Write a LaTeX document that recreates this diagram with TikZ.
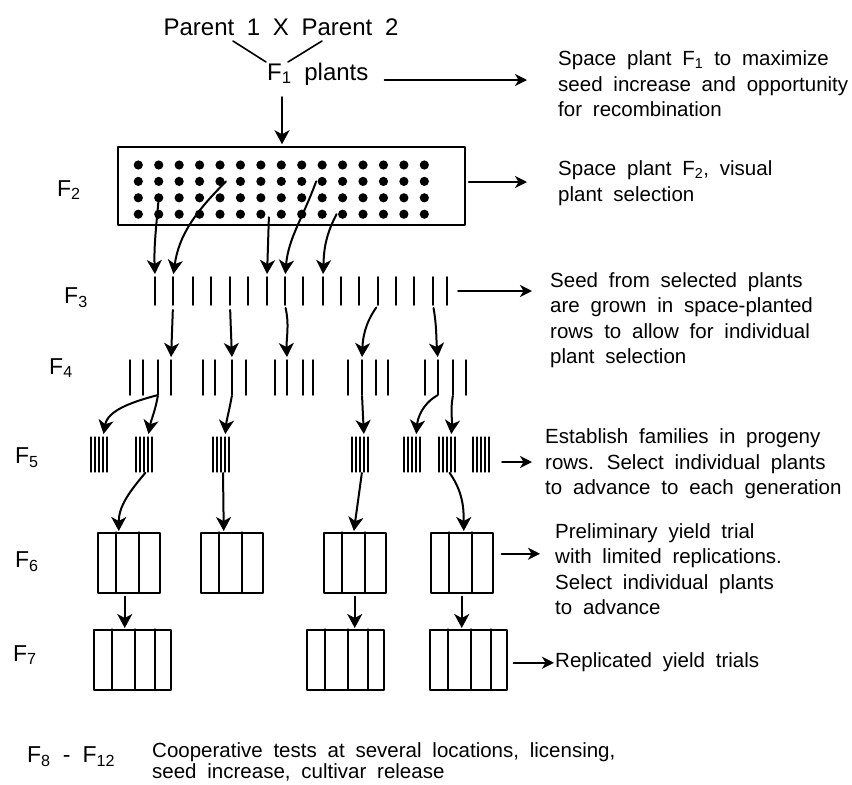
\documentclass[tikz,border=0pt]{standalone}
\usepackage{fontspec}
\setmainfont[WordSpace=1.9]{Liberation Sans}
\usetikzlibrary{arrows.meta}

\begin{document}
\begin{tikzpicture}[x=1pt,y=1pt,line cap=round,line join=round,
    note/.style={anchor=west,align=left,inner sep=0pt,font=\fontsize{20.5}{25.5}\selectfont},
    gen/.style={anchor=west,inner sep=0pt,font=\fontsize{23}{26}\selectfont},
    plot/.style={draw,line width=1.5pt,inner sep=0pt,anchor=north west},
    pick/.style={line width=2pt,shorten >=3pt,-{Stealth[length=14pt,width=15pt,inset=4pt]}},
    side/.style={line width=1.8pt,-{Stealth[length=12pt,width=12pt,inset=3.5pt]}}]
  \useasboundingbox (0,0) rectangle (852,-785);

  % cross and F1
  \node[font=\fontsize{24}{28}\selectfont] (cross) at (281,-27) {Parent 1 X Parent 2};
  \node[anchor=base west,inner sep=0pt,font=\fontsize{24}{28}\selectfont] (f1) at (267,-80) {F\textsubscript{1} plants};
  \coordinate (p1) at (233,-41);
  \coordinate (p2) at (322,-41);
  \coordinate (m1) at (266,-62);
  \coordinate (m2) at (288,-62);
  \draw[line width=1.6pt] (p1) -- (m1) (p2) -- (m2);

  % F2 field
  \node[draw,line width=1.5pt,minimum width=347pt,minimum height=78pt,inner sep=0pt] (field) at (291.5,-186) {};
  \foreach \c in {0,...,14}
    \foreach \r in {0,...,3}
      \fill ({138.3+20.43*\c},{-165-16.4*\r}) coordinate (d-\c-\r) circle (4.6pt);
  \coordinate (f1 stem) at (282,-97);
  \draw[pick,shorten >=2pt] (f1 stem) -- (f1 stem |- field.north);

  % F3 rows
  \foreach \x [count=\i from 0] in {155,173,193,211,230,248,267,285,303,323,341,359,378,396,414,433,447}
    \draw[line width=1.7pt] (\x,-277) coordinate (r3-\i) -- (\x,-305) coordinate (r3b-\i);
  \draw[pick] (d-1-2) to[out=-95,in=92] (r3-0);
  \draw[pick] ([xshift=6]d-4-1) to[out=-135,in=82] (r3-1);
  \draw[pick] ([shift={(8,-3)}]d-6-3) -- (r3-6);
  \draw[pick] ([xshift=-6]d-9-1) to[out=-110,in=85] (r3-7);
  \draw[pick] ([xshift=-6]d-10-3) to[out=-118,in=88] (r3-9);

  % F4 rows
  \foreach \g/\xs in {1/{130,143,158,171},2/{203,215,232,246},3/{275,287,303,313},4/{348,362,376,388},5/{425,438,453,466}}
    \foreach \x [count=\l] in \xs
      \draw[line width=1.5pt] (\x,-360) coordinate (r4-\g-\l) -- (\x,-395) coordinate (r4b-\g-\l);
  \draw[pick,shorten <=5pt] (r3b-1) -- (r4-1-4);
  \draw[pick,shorten <=5pt] (r3b-4) to[out=-88,in=92] (r4-2-3);
  \draw[pick,shorten <=3pt] (r3b-7) to[out=-78,in=92] (r4-3-2);
  \draw[pick,shorten <=3pt] (r3b-12) to[out=-125,in=88] (r4-4-2);
  \draw[pick,shorten <=3pt] (r3b-15) to[out=-80,in=95] (r4-5-2);

  % F5 families
  \foreach \g/\x in {1/91,2/136,3/213,4/352,5/404,6/439,7/473} {
    \foreach \k in {0,...,4}
      \draw[line width=1.1pt] ({\x+4*\k},-437) -- ++(0,-35);
    \coordinate (r5-\g) at (\x+12,-437);
    \coordinate (r5b-\g) at (\x+10,-472);
  }
  \draw[pick,shorten <=1pt] (r4b-1-3) to[out=-165,in=80] (r5-1);
  \draw[pick,shorten <=1pt] (r4b-1-3) to[out=-100,in=80] (r5-2);
  \draw[pick,shorten <=1pt] (r4b-2-3) to[out=-100,in=85] (r5-3);
  \draw[pick,shorten <=1pt] (r4b-4-2) -- (r5-4);
  \draw[pick,shorten <=1pt] (r4b-5-2) to[out=-150,in=85] (r5-5);
  \draw[pick,shorten <=1pt] (r4b-5-3) to[out=-100,in=85] (r5-6);

  % F6 plots
  \foreach \n/\x in {1/97,2/200,3/323,4/430} {
    \node[plot,minimum width=62pt,minimum height=60pt] (p6-\n) at (\x,-532) {};
    \foreach \d in {19,42}
      \draw[line width=1.3pt] ([xshift=\d]p6-\n.north west) -- ([xshift=\d]p6-\n.south west);
  }
  \draw[pick,shorten <=1pt,shorten >=1pt] (r5b-2) to[out=-130,in=90] ([xshift=-10]p6-1.north);
  \draw[pick,shorten <=1pt,shorten >=1pt] (r5b-3) -- ([xshift=-8]p6-2.north);
  \draw[pick,shorten <=1pt,shorten >=1pt] (r5b-4) -- ([xshift=-1]p6-3.north);
  \draw[pick,shorten <=1pt,shorten >=1pt] (r5b-6) to[out=-55,in=90] ([xshift=2]p6-4.north);

  % F7 plots
  \foreach \n/\x in {1/93,2/306,3/429} {
    \node[plot,minimum width=77pt,minimum height=60pt] (p7-\n) at (\x,-629) {};
    \foreach \d in {19,42,62}
      \draw[line width=1.3pt] ([xshift=\d]p7-\n.north west) -- ([xshift=\d]p7-\n.south west);
  }
  \draw[pick,shorten <=3pt,shorten >=1pt] ([xshift=-4]p6-1.south) -- ([xshift=-4]p6-1.south |- p7-1.north);
  \draw[pick,shorten <=3pt,shorten >=1pt] (p6-3.south) -- (p6-3.south |- p7-2.north);
  \draw[pick,shorten <=3pt,shorten >=1pt] (p6-4.south) -- (p6-4.south |- p7-3.north);

  % generations
  \node[gen] (g2) at (57,-190) {F\textsubscript{2}};
  \node[gen] (g3) at (64,-298) {F\textsubscript{3}};
  \node[gen] (g4) at (49,-368) {F\textsubscript{4}};
  \node[gen] (g5) at (15,-458) {F\textsubscript{5}};
  \node[gen] (g6) at (15,-562) {F\textsubscript{6}};
  \node[gen] (g7) at (13,-655) {F\textsubscript{7}};
  \node[gen] (g8) at (27,-757) {F\textsubscript{8} - F\textsubscript{12}};

  % notes
  \node[note] (n1) at (558,-84) {Space plant F\textsubscript{1} to maximize\\seed increase and opportunity\\for recombination};
  \node[note] (n2) at (558,-183) {Space plant F\textsubscript{2}, visual\\plant selection};
  \node[note] (n3) at (550,-320) {Seed from selected plants\\are grown in space-planted\\rows to allow for individual\\plant selection};
  \node[note] (n4) at (545,-464) {Establish families in progeny\\rows. Select individual plants\\to advance to each generation};
  \node[note] (n5) at (555,-569) {Preliminary yield trial\\with limited replications.\\Select individual plants\\to advance};
  \node[note] (n6) at (555,-662) {Replicated yield trials};
  \node[note,font=\fontsize{20.5}{21}\selectfont] (n7) at (152,-762) {Cooperative tests at several locations, licensing,\\seed increase, cultivar release};

  \draw[side,shorten <=16pt,shorten >=31pt] (f1.base east) -- (f1.base east -| n1.west);
  \draw[side,shorten <=3pt,shorten >=31pt] ([yshift=4]field.east) -- ([yshift=4]field.east -| n2.west);
  \draw[side,shorten <=11pt,shorten >=18pt] ([yshift=-14]r3-16) -- ([yshift=-14]r3-16 -| n3.west);
  \draw[side,shorten <=19pt,shorten >=13pt] ([yshift=10]r5b-7) -- ([yshift=10]r5b-7 -| n4.west);
  \draw[side,shorten <=8pt,shorten >=15pt] ([yshift=9]p6-4.east) -- ([yshift=9]p6-4.east -| n5.west);
  \draw[side,shorten <=6pt,shorten >=1pt] ([yshift=-3]p7-3.east) -- ([yshift=-3]p7-3.east -| n6.west);
\end{tikzpicture}
\end{document}
